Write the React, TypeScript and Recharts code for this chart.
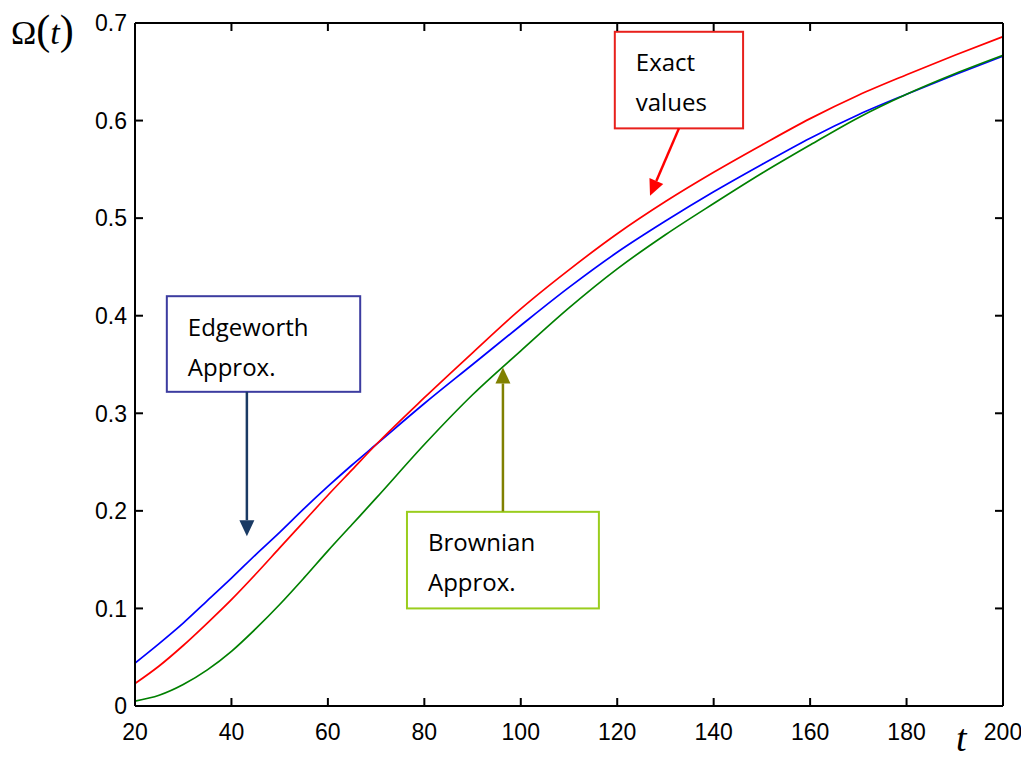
import { LineChart, Line, XAxis, YAxis, ReferenceArea, ReferenceLine, Customized } from 'recharts';

// sampled curves of Omega(t)
const tValues = [20, 25, 30, 35, 40, 45, 50, 55, 60, 65, 70, 80, 90, 100, 110, 120, 130, 140, 150, 160, 170, 180, 190, 200];
const exactValues = [0.023, 0.041, 0.062, 0.085, 0.109, 0.135, 0.162, 0.189, 0.216, 0.242, 0.268, 0.316, 0.362, 0.407, 0.447, 0.484, 0.517, 0.547, 0.575, 0.602, 0.626, 0.647, 0.667, 0.686];
const edgeworthValues = [0.044, 0.064, 0.085, 0.108, 0.131, 0.155, 0.178, 0.202, 0.225, 0.247, 0.268, 0.31, 0.35, 0.39, 0.429, 0.465, 0.497, 0.527, 0.555, 0.582, 0.606, 0.627, 0.647, 0.666];
const brownianValues = [0.005, 0.011, 0.022, 0.037, 0.056, 0.079, 0.104, 0.131, 0.159, 0.186, 0.213, 0.268, 0.319, 0.364, 0.408, 0.448, 0.483, 0.515, 0.546, 0.575, 0.603, 0.627, 0.648, 0.667];

const xTicks = [20, 40, 60, 80, 100, 120, 140, 160, 180, 200];
const yTicks = [0, 0.1, 0.2, 0.3, 0.4, 0.5, 0.6, 0.7];

// callout boxes [t1, t2, y1, y2] and arrows [tFrom, yFrom, tTo, yTo]
const exactBox = [119.5, 146.1, 0.592, 0.691];
const exactArrow = [132.8, 0.592, 126.8, 0.523];
const edgeworthBox = [26.6, 66.7, 0.322, 0.42];
const edgeworthArrow = [43.2, 0.322, 43.2, 0.174];
const brownianBox = [76.4, 116.2, 0.1, 0.199];
const brownianArrow = [96.3, 0.1995, 96.3, 0.347];

const chartData = tValues.map((t, i) => ({
  t,
  exact: exactValues[i],
  edgeworth: edgeworthValues[i],
  brownian: brownianValues[i],
}));

const TICK_FONT = "'Liberation Sans', Arial, sans-serif";
const TICK_LEN = 8;
const LABEL_GAP = 20;
const frame = { stroke: '#000', strokeWidth: 2 };

// ticks point into the plot, so each tick draws its own mark
function BottomTick({ x, y, payload }: any) {
  const axisY = y - LABEL_GAP;
  return (
    <g>
      <line x1={x} y1={axisY} x2={x} y2={axisY - TICK_LEN} stroke="#000" strokeWidth={2} />
      <text x={x} y={axisY + 34} textAnchor="middle" fontFamily={TICK_FONT} fontSize={23} fill="#000">
        {payload.value}
      </text>
    </g>
  );
}

function LeftTick({ x, y, payload }: any) {
  const axisX = x + LABEL_GAP;
  return (
    <g>
      <line x1={axisX} y1={y} x2={axisX + TICK_LEN} y2={y} stroke="#000" strokeWidth={2} />
      <text x={axisX - 8} y={y} dy="0.36em" textAnchor="end" fontFamily={TICK_FONT} fontSize={23} fill="#000">
        {payload.value}
      </text>
    </g>
  );
}

function TopTick({ x, y }: any) {
  return <line x1={x} y1={y} x2={x} y2={y + TICK_LEN} stroke="#000" strokeWidth={2} />;
}

function RightTick({ x, y }: any) {
  return <line x1={x} y1={y} x2={x - TICK_LEN} y2={y} stroke="#000" strokeWidth={2} />;
}

function arrowShape(color: string) {
  return (props: any) => {
    const { x1, y1, x2, y2 } = props;
    const dx = x2 - x1;
    const dy = y2 - y1;
    const len = Math.hypot(dx, dy) || 1;
    const ux = dx / len;
    const uy = dy / len;
    const head = 16;
    const half = 7.5;
    const bx = x2 - ux * head;
    const by = y2 - uy * head;
    const pts = `${x2},${y2} ${bx - uy * half},${by + ux * half} ${bx + uy * half},${by - ux * half}`;
    return (
      <g>
        <line x1={x1} y1={y1} x2={bx} y2={by} stroke={color} strokeWidth={2.5} />
        <polygon points={pts} fill={color} />
      </g>
    );
  };
}

function calloutShape(lines: string[], border: string) {
  return (props: any) => {
    const { x, y, width, height } = props;
    return (
      <g>
        <rect x={x} y={y} width={width} height={height} fill="#fff" stroke={border} strokeWidth={2} />
        {lines.map((s, i) => (
          <text
            key={s}
            x={x + 21}
            y={y + 39.5 + i * 40}
            fontFamily="'Open Sans', sans-serif"
            fontSize={24}
            fill="#000"
          >
            {s}
          </text>
        ))}
      </g>
    );
  };
}

function AxisTitles() {
  return (
    <g fontFamily="'Liberation Serif', 'Times New Roman', serif" fill="#000">
      <text x={11} y={44}>
        <tspan fontSize={34}>Ω</tspan>
        <tspan fontSize={42}>(</tspan>
        <tspan fontSize={34} fontStyle="italic">t</tspan>
        <tspan fontSize={42}>)</tspan>
      </text>
      <text x={956} y={751} fontSize={38} fontStyle="italic">t</text>
    </g>
  );
}

export default function App() {
  return (
    <div style={{ margin: -8 }}>
      <LineChart
        width={1029}
        height={760}
        data={chartData}
        margin={{ top: 22, right: 25, left: 0, bottom: 0 }}
      >
        <XAxis
          dataKey="t"
          type="number"
          domain={[20, 200]}
          ticks={xTicks}
          interval={0}
          height={54}
          tick={BottomTick}
          tickSize={0}
          tickMargin={LABEL_GAP}
          axisLine={frame}
          tickLine={false}
        />
        {/* mirror axes on top and right carry only the inward tick marks */}
        <XAxis
          xAxisId="top"
          orientation="top"
          dataKey="t"
          type="number"
          domain={[20, 200]}
          allowDataOverflow
          ticks={xTicks}
          interval={0}
          height={1}
          tick={TopTick}
          tickSize={0}
          tickMargin={0}
          axisLine={frame}
          tickLine={false}
        />
        <YAxis
          type="number"
          domain={[0, 0.7]}
          ticks={yTicks}
          interval={0}
          width={135}
          tick={LeftTick}
          tickSize={0}
          tickMargin={LABEL_GAP}
          axisLine={frame}
          tickLine={false}
        />
        <YAxis
          yAxisId="right"
          orientation="right"
          type="number"
          domain={[0, 0.7]}
          allowDataOverflow
          ticks={yTicks}
          interval={0}
          width={1}
          tick={RightTick}
          tickSize={0}
          tickMargin={0}
          axisLine={frame}
          tickLine={false}
        />
        <Line xAxisId="top" type="monotone" dataKey="edgeworth" stroke="#0000ff" strokeWidth={1.7} dot={false} isAnimationActive={false} />
        <Line yAxisId="right" type="monotone" dataKey="brownian" stroke="#008000" strokeWidth={1.7} dot={false} isAnimationActive={false} />
        <Line type="monotone" dataKey="exact" stroke="#ff0000" strokeWidth={1.7} dot={false} isAnimationActive={false} />

        <ReferenceArea
          x1={exactBox[0]}
          x2={exactBox[1]}
          y1={exactBox[2]}
          y2={exactBox[3]}
          shape={calloutShape(['Exact', 'values'], '#e8201c')}
        />
        <ReferenceLine
          segment={[{ x: exactArrow[0], y: exactArrow[1] }, { x: exactArrow[2], y: exactArrow[3] }]}
          shape={arrowShape('#ff0000')}
        />
        <ReferenceArea
          x1={edgeworthBox[0]}
          x2={edgeworthBox[1]}
          y1={edgeworthBox[2]}
          y2={edgeworthBox[3]}
          shape={calloutShape(['Edgeworth', 'Approx.'], '#3c3ca0')}
        />
        <ReferenceLine
          segment={[{ x: edgeworthArrow[0], y: edgeworthArrow[1] }, { x: edgeworthArrow[2], y: edgeworthArrow[3] }]}
          shape={arrowShape('#1a3a64')}
        />
        <ReferenceArea
          x1={brownianBox[0]}
          x2={brownianBox[1]}
          y1={brownianBox[2]}
          y2={brownianBox[3]}
          shape={calloutShape(['Brownian', 'Approx.'], '#9acd1e')}
        />
        <ReferenceLine
          segment={[{ x: brownianArrow[0], y: brownianArrow[1] }, { x: brownianArrow[2], y: brownianArrow[3] }]}
          shape={arrowShape('#808000')}
        />
        <Customized component={AxisTitles} />
      </LineChart>
    </div>
  );
}
